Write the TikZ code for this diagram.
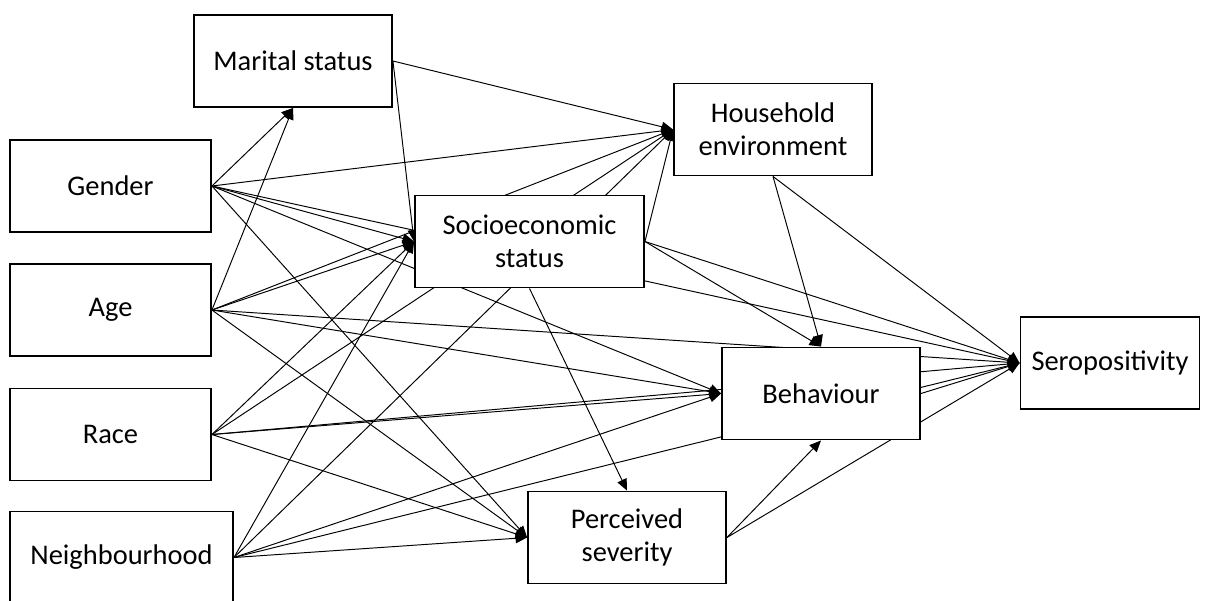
\documentclass[tikz,border=0pt]{standalone}
\usepackage{fontspec}
\setmainfont{Carlito}
\usetikzlibrary{arrows.meta}
\pgfdeclarelayer{edges}
\pgfsetlayers{edges,main}
\tikzset{
  factor/.style={draw, line width=1.1pt, fill=white, align=center, inner sep=0pt,
    minimum width=3.96cm, minimum height=1.84cm,
    font=\fontsize{16.2pt}{18.8pt}\selectfont},
  link/.style={line width=0.55pt, -{Triangle[length=0.23cm,width=0.2cm]}}
}
\begin{document}
\begin{tikzpicture}[x=0.02cm, y=-0.02cm]
\useasboundingbox (0,0) rectangle (1214,600);

% Boxes
\node[factor] (marital) at (293,61) {Marital status};
\node[factor, minimum width=4.02cm] (gender) at (110.5,186) {Gender};
\node[factor, minimum width=4.02cm] (age) at (110.5,310) {Age};
\node[factor, minimum width=4.02cm] (race) at (110.5,434.5) {Race};
\node[factor, minimum width=4.46cm] (hood) at (121.5,557.5) {Neighbourhood};
\node[factor] (house) at (773,129.5) {Household\\environment};
\node[factor, minimum width=4.58cm] (ses) at (529.5,241.5) {Socioeconomic\\status};
\node[factor] (behav) at (821,393.5) {Behaviour};
\node[factor] (sever) at (627,537.5) {Perceived\\severity};
\node[factor, minimum width=3.58cm] (sero) at (1110,363) {Seropositivity};

% Arrows
\begin{pgfonlayer}{edges}
\foreach \src in {gender, age, race, hood}
  \foreach \dst in {house, ses, behav, sero, sever}
    \draw[link] (\src.east) -- (\dst.west);
\foreach \src in {gender, age}
  \draw[link] (\src.east) -- (marital.south);
\foreach \dst in {house, ses}
  \draw[link] (marital.east) -- (\dst.west);
\foreach \dst in {house, sero}
  \draw[link] (ses.east) -- (\dst.west);
\draw[link] (ses.east) -- (behav.north);
\draw[link] (ses.south) -- (sever.north);
\draw[link] (house.south) -- (behav.north);
\draw[link] (house.south) -- (sero.west);
\draw[link] (sever.east) -- (behav.south);
\draw[link] (sever.east) -- (sero.west);
\draw[link] (behav.east) -- (sero.west);
\end{pgfonlayer}
\end{tikzpicture}
\end{document}
